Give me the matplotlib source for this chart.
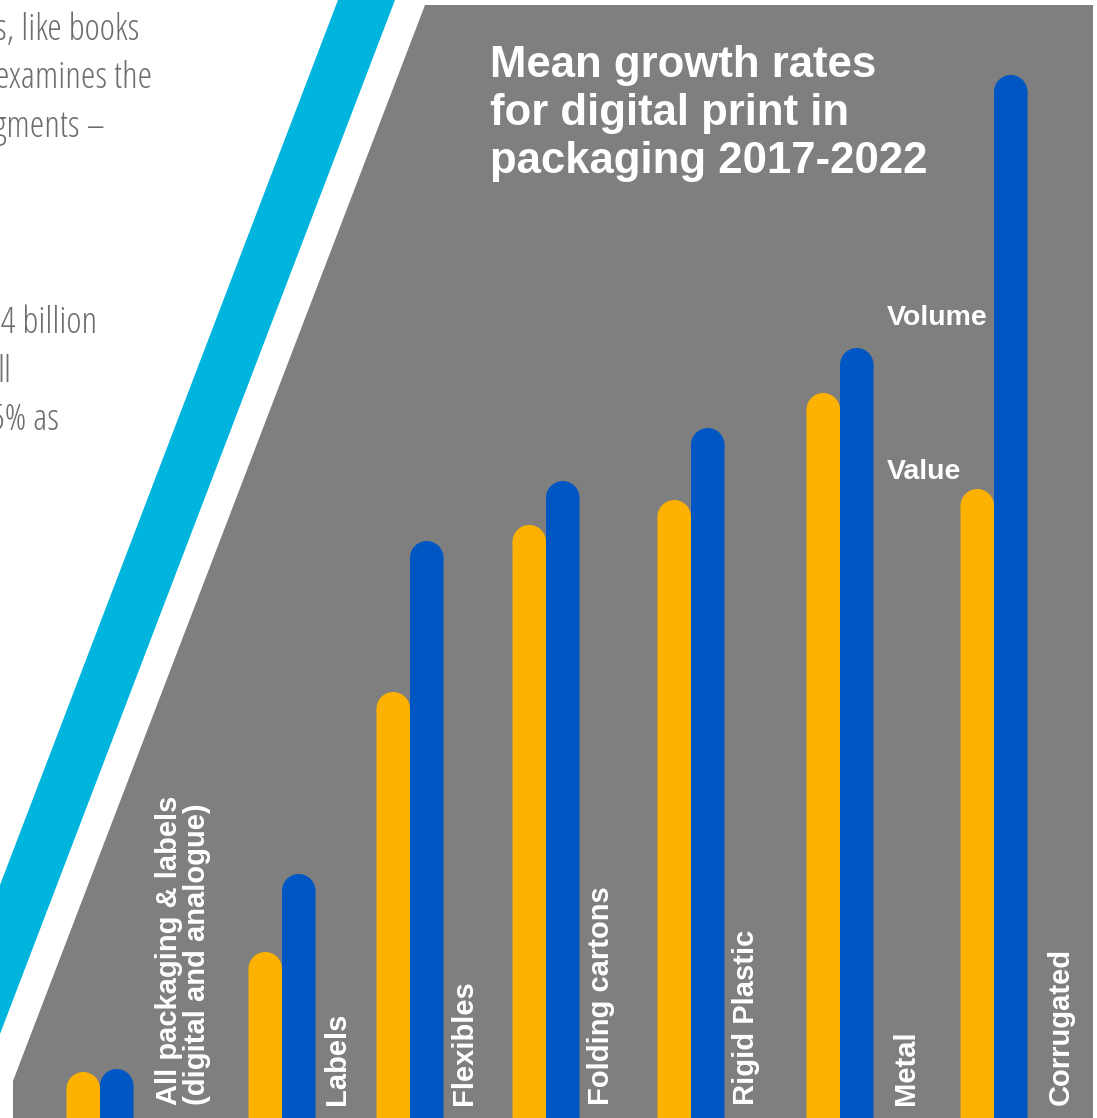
import matplotlib
matplotlib.use("Agg")
import matplotlib.pyplot as plt
from matplotlib.patches import Polygon, Ellipse

# ---------------- data ----------------
categories = [
    "All packaging & labels\n(digital and analogue)",
    "Labels",
    "Flexibles",
    "Folding cartons",
    "Rigid Plastic",
    "Metal",
    "Corrugated",
]
# relative bar heights (no axis shown in the original)
value_growth = [4.6, 16.6, 42.6, 59.3, 61.8, 72.5, 62.9]
volume_growth = [4.9, 24.4, 57.7, 63.7, 69.0, 77.0, 104.3]
series_names = ["Value", "Volume"]
title_text = "Mean growth rates\nfor digital print in\npackaging 2017-2022"
body_lines = ["s, like books", "examines the", "gments \u2013", "04 billion", "ll", "5% as"]

# ---------------- layout / style ----------------
W, H, DPI = 1097, 1118, 100
group_x = [100, 282, 410, 546, 691, 840, 994]      # boundary between the pair
label_x = [183, 337, 464, 601, 746, 906, 1061]
bar_w = 33.5
YSCALE = 10.0                                      # px per y unit
C_VALUE = "#FDB100"
C_VOLUME = "#0057C3"
C_GREY = "#7F7F7F"
C_CYAN = "#00B5DD"
C_BODY = "#6E6E6E"
BOLD = ["Liberation Sans", "DejaVu Sans"]

fig = plt.figure(figsize=(W / DPI, H / DPI), dpi=DPI)
fig.patch.set_facecolor("white")

# background decoration axes (pixel coordinates, y downwards)
bg = fig.add_axes([0, 0, 1, 1], zorder=0)
bg.set_xlim(0, W)
bg.set_ylim(H, 0)
bg.axis("off")
bg.add_patch(Polygon([(338, 0), (395, 0), (0, 1034), (0, 885)], closed=True,
                     facecolor=C_CYAN, edgecolor="none"))
bg.add_patch(Polygon([(425, 5), (1093, 5), (1093, H), (13, H), (13, 1081)], closed=True,
                     facecolor=C_GREY, edgecolor="none"))

# clipped body text on the left (Open Sans Condensed Light)
body_y = [40, 88, 137, 333, 382, 430]
body_right = [139, 152, 105, 97, 11, 59]
for s, y, xr in zip(body_lines, body_y, body_right):
    bg.text(xr, y, s, ha="right", va="baseline", fontsize=26.5, color=C_BODY,
            family=["Open Sans", "DejaVu Sans"], fontstretch="condensed",
            fontweight=300)

# title
bg.text(490, 45, title_text, ha="left", va="top", fontsize=31.5,
        fontweight="bold", color="white", family=BOLD, linespacing=1.22)

# series labels
bg.text(887, 325, series_names[1], ha="left", va="baseline", fontsize=20.5,
        fontweight="bold", color="white", family=BOLD)
bg.text(887, 479, series_names[0], ha="left", va="baseline", fontsize=20.5,
        fontweight="bold", color="white", family=BOLD)

# chart axes
ax = fig.add_axes([0, 0, 1, 1], zorder=1)
ax.set_xlim(0, W)
ax.set_ylim(0, H / YSCALE)
ax.axis("off")
ax.patch.set_alpha(0)

ry = bar_w / 2 / YSCALE
for vals, off, col in ((value_growth, -bar_w / 2, C_VALUE), (volume_growth, bar_w / 2, C_VOLUME)):
    xs = [g + off for g in group_x]
    bars = ax.bar(xs, [v - ry for v in vals], width=bar_w, color=col, linewidth=0)
    for b in bars:
        b.set_snap(False)
    for x, v in zip(xs, vals):
        ax.add_patch(Ellipse((x, v - ry), width=bar_w, height=2 * ry,
                             facecolor=col, edgecolor="none"))

for x, lab in zip(label_x, categories):
    ax.text(x, 1.3, lab, rotation=90, ha="center", va="bottom", fontsize=21,
            fontweight="bold", color="white", family=BOLD, linespacing=1.0,
            multialignment="left")

fig.savefig("out.png", dpi=DPI, facecolor="white")
